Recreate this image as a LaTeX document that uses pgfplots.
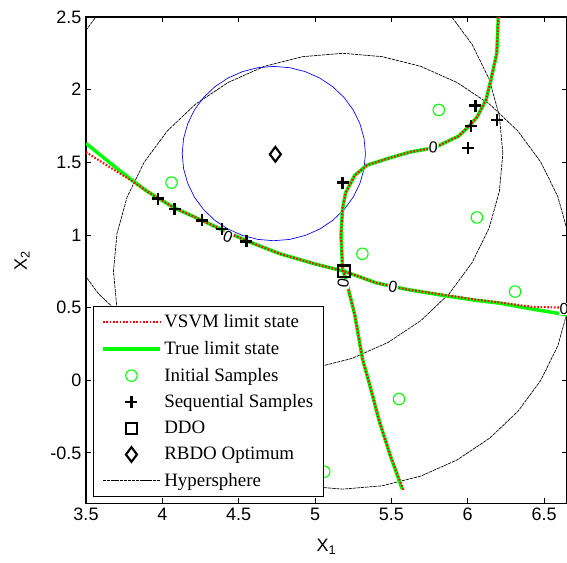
\documentclass[border=0pt]{standalone}
\usepackage{fontspec}
\setmainfont{Liberation Serif}
\newfontfamily\arial{Liberation Sans}
\usepackage{pgfplots}
\pgfplotsset{compat=1.18}
\definecolor{mgreen}{rgb}{0,1,0}
\definecolor{mred}{rgb}{1,0,0}
\definecolor{mblue}{rgb}{0,0,1}
\pgfplotsset{
  legline/.style={legend image code/.code={\draw[mark repeat=2,mark phase=2,##1] plot coordinates {(0cm,0cm) (0.75cm,0cm) (1.5cm,0cm)};}},
  hyper/.style={black, line width=0.5pt, dash pattern=on 2.5pt off 0.6pt},
}
\tikzset{zlab/.style={font=\arial\fontsize{12}{12}\selectfont, fill=white, inner sep=0.3pt}}
\pgfplotstableread{
x y
6.680 0.750
6.657 1.010
6.590 1.263
6.479 1.500
6.329 1.714
6.144 1.899
5.930 2.049
5.693 2.160
5.440 2.227
5.180 2.250
4.920 2.227
4.667 2.160
4.430 2.049
4.216 1.899
4.031 1.714
3.881 1.500
3.770 1.263
3.703 1.010
3.680 0.750
3.703 0.490
3.770 0.237
3.881 0.000
4.031 -0.214
4.216 -0.399
4.430 -0.549
4.667 -0.660
4.920 -0.727
5.180 -0.750
5.440 -0.727
5.693 -0.660
5.930 -0.549
6.144 -0.399
6.329 -0.214
6.479 0.000
6.590 0.237
6.657 0.490
6.680 0.750
}\sphA
\pgfplotstableread{
x y
6.230 1.560
6.207 1.820
6.140 2.073
6.029 2.310
5.879 2.524
5.694 2.709
5.480 2.859
5.243 2.970
4.990 3.037
4.730 3.060
4.470 3.037
4.217 2.970
3.980 2.859
3.766 2.709
3.581 2.524
3.431 2.310
3.320 2.073
3.253 1.820
3.230 1.560
3.253 1.300
3.320 1.047
3.431 0.810
3.581 0.596
3.766 0.411
3.980 0.261
4.217 0.150
4.470 0.083
4.730 0.060
4.990 0.083
5.243 0.150
5.480 0.261
5.694 0.411
5.879 0.596
6.029 0.810
6.140 1.047
6.207 1.300
6.230 1.560
}\sphB
\pgfplotstableread{
x y
5.330 1.560
5.321 1.664
5.294 1.765
5.250 1.860
5.190 1.946
5.116 2.020
5.030 2.080
4.935 2.124
4.834 2.151
4.730 2.160
4.626 2.151
4.525 2.124
4.430 2.080
4.344 2.020
4.270 1.946
4.210 1.860
4.166 1.765
4.139 1.664
4.130 1.560
4.139 1.456
4.166 1.355
4.210 1.260
4.270 1.174
4.344 1.100
4.430 1.040
4.525 0.996
4.626 0.969
4.730 0.960
4.834 0.969
4.935 0.996
5.030 1.040
5.116 1.100
5.190 1.174
5.250 1.260
5.294 1.355
5.321 1.456
5.330 1.560
}\sphC
\pgfplotstableread{
x y
3.50 1.630
3.60 1.545
3.70 1.460
3.81 1.370
3.90 1.300
3.97 1.255
4.08 1.185
4.26 1.100
4.39 1.035
4.55 0.960
4.77 0.870
5.00 0.800
5.19 0.750
5.40 0.670
5.60 0.625
5.86 0.580
6.05 0.550
6.21 0.530
6.42 0.490
6.65 0.450
}\trueA
\pgfplotstableread{
x y
6.20 2.50
6.19 2.25
6.15 2.06
6.12 1.93
6.06 1.81
6.01 1.75
5.94 1.68
5.78 1.60
5.62 1.57
5.49 1.53
5.34 1.48
5.26 1.41
5.20 1.29
5.18 1.18
5.17 1.00
5.18 0.77
5.21 0.66
5.26 0.45
5.31 0.15
5.37 -0.08
5.42 -0.28
5.49 -0.51
5.57 -0.75
}\trueB
\pgfplotstableread{
x y
3.50 1.570
3.65 1.470
3.81 1.365
3.90 1.300
3.97 1.255
4.08 1.185
4.26 1.100
4.39 1.035
4.55 0.960
4.77 0.870
5.00 0.800
5.19 0.750
5.40 0.670
5.60 0.625
5.86 0.585
6.05 0.555
6.21 0.535
6.42 0.505
6.60 0.500
}\svmA
\pgfplotstableread{
x y
6.20 2.50
6.19 2.25
6.15 2.06
6.12 1.93
6.06 1.81
6.01 1.75
5.94 1.68
5.78 1.60
5.62 1.57
5.49 1.53
5.34 1.48
5.26 1.41
5.20 1.29
5.18 1.18
5.17 1.00
5.18 0.77
5.21 0.66
5.26 0.45
5.31 0.15
5.37 -0.08
5.42 -0.28
5.49 -0.51
5.58 -0.76
}\svmB
\pgfplotstableread{
x y
4.06 1.36
5.81 1.86
6.06 1.12
5.31 0.87
6.31 0.61
5.55 -0.13
5.06 -0.63
}\initS
\pgfplotstableread{
x y
3.97 1.25
4.08 1.18
4.26 1.10
4.39 1.04
4.55 0.955
5.18 1.36
6.05 1.89
6.02 1.75
6.00 1.60
6.19 1.79
}\seqS
\begin{document}
\begin{tikzpicture}
\begin{axis}[name=ax, scale only axis, width=360.75pt, height=365pt,
  xmin=3.5, xmax=6.65, ymin=-0.85, ymax=2.5,
  xtick={3.5,4,4.5,5,5.5,6,6.5}, xticklabels={3.5,4,4.5,5,5.5,6,6.5},
  ytick={-0.5,0,0.5,1,1.5,2,2.5}, yticklabels={-0.5,0,0.5,1,1.5,2,2.5},
  tick align=inside, major tick length=4pt,
  tick style={black, line width=0.6pt},
  axis line style={line width=1.2pt},
  tick label style={font=\arial\fontsize{13.5}{16}\selectfont},
  xlabel={X\textsubscript{1}}, ylabel={X\textsubscript{2}},
  label style={font=\arial\fontsize{13.5}{16}\selectfont},
  xlabel style={at={(axis description cs:0.5,-0.088)}, anchor=center},
  ylabel style={at={(axis description cs:-0.133,0.5)}, anchor=center},
  legline,
  legend style={at={(0,0)}, anchor=south west, xshift=5pt, yshift=5pt,
    draw=black, line width=0.9pt, fill=white,
    font=\fontsize{14.2}{16}\selectfont, row sep=4.6pt,
    inner xsep=6pt, inner ysep=4pt},
  legend cell align=left,
]
\addplot[hyper, forget plot] table {\sphA};
\addplot[hyper, forget plot] table {\sphB};
\addplot[mblue, line width=0.5pt, forget plot] table {\sphC};
\addplot[mgreen, line width=2.6pt, forget plot] table {\trueA};
\addplot[mgreen, line width=2.6pt, forget plot] table {\trueB};
\addplot[mred, line width=1.6pt, dash pattern=on 1.2pt off 1.3pt, forget plot] table {\svmA};
\addplot[mred, line width=1.6pt, dash pattern=on 1.2pt off 1.3pt, forget plot] table {\svmB};
\node[zlab, rotate=-20] at (axis cs:4.43,0.99) {0};
\node[zlab, rotate=80] at (axis cs:5.185,0.665) {0};
\node[zlab, rotate=-10] at (axis cs:5.51,0.645) {0};
\node[zlab, rotate=-5] at (axis cs:5.775,1.605) {0};
\node[zlab] at (axis cs:6.63,0.49) {0};
\addplot[only marks, mark=o, mgreen, mark size=4.3pt, line width=0.8pt, forget plot] table {\initS};
\addplot[only marks, mark=+, black, mark size=4.5pt, line width=1.8pt, forget plot] table {\seqS};
\addplot[only marks, mark=square, black, mark size=4.3pt, line width=1.6pt, forget plot] coordinates {(5.19,0.75)};
\addplot[only marks, mark=diamond, black, mark size=5.5pt, line width=1.6pt, forget plot] coordinates {(4.74,1.555)};
\addlegendimage{mred, line width=1.6pt, dash pattern=on 1.2pt off 1.3pt}
\addlegendentry{VSVM limit state}
\addlegendimage{mgreen, line width=2.6pt}
\addlegendentry{True limit state}
\addlegendimage{only marks, mark=o, mgreen, mark size=4.3pt, line width=0.8pt, legline}
\addlegendentry{Initial Samples}
\addlegendimage{only marks, mark=+, black, mark size=4.5pt, line width=1.8pt, legline}
\addlegendentry{Sequential Samples}
\addlegendimage{only marks, mark=square, black, mark size=4.3pt, line width=1.6pt, legline}
\addlegendentry{DDO}
\addlegendimage{only marks, mark=diamond, black, mark size=5.5pt, line width=1.6pt, legline}
\addlegendentry{RBDO Optimum}
\addlegendimage{hyper}
\addlegendentry{Hypersphere}
\end{axis}
\pgfresetboundingbox
\path[use as bounding box] ([xshift=-64.5pt,yshift=-44.25pt]ax.south west) rectangle ([yshift=12.75pt]ax.north east);
\end{tikzpicture}
\end{document}
